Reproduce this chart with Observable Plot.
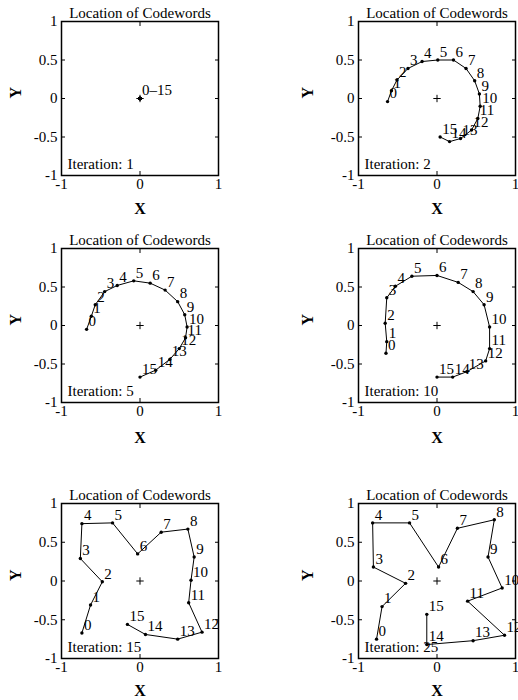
<!DOCTYPE html>
<html><head><meta charset="utf-8">
<script src="https://cdn.jsdelivr.net/npm/d3@7"></script>
<script src="https://cdn.jsdelivr.net/npm/@observablehq/plot@0.6"></script>
<style>
body{margin:0;background:#fff;}
#chart{position:relative;width:518px;height:700px;overflow:hidden;}
.panel{position:absolute;}
</style></head><body><div id="chart"></div>
<script>
// ---- data ----
const titleText = "Location of Codewords";
const iterations = [1, 2, 5, 10, 15, 25];
const codewordLabels = ["0","1","2","3","4","5","6","7","8","9","10","11","12","13","14","15"];
const iter1Labels = ["0–15"];
const xTicks = [-1, 0, 1];
const yTicks = [-1, -0.5, 0, 0.5, 1];

const iter1X = [0,0,0,0,0,0,0,0,0,0,0,0,0,0,0,0];
const iter1Y = [0,0,0,0,0,0,0,0,0,0,0,0,0,0,0,0];

const iter2X = [-0.63,-0.58,-0.51,-0.37,-0.19,0.01,0.21,0.37,0.48,0.54,0.55,0.52,0.44,0.30,0.16,0.04];
const iter2Y = [-0.04,0.10,0.24,0.39,0.48,0.50,0.50,0.39,0.23,0.06,-0.10,-0.26,-0.41,-0.52,-0.56,-0.50];

const iter5X = [-0.68,-0.62,-0.57,-0.45,-0.29,-0.08,0.13,0.32,0.48,0.57,0.60,0.58,0.50,0.38,0.20,0.00];
const iter5Y = [-0.05,0.12,0.27,0.44,0.52,0.58,0.55,0.46,0.31,0.14,-0.02,-0.16,-0.30,-0.44,-0.58,-0.67];

const iter10X = [-0.65,-0.64,-0.66,-0.64,-0.53,-0.32,0.00,0.27,0.46,0.60,0.67,0.67,0.62,0.38,0.20,0.00];
const iter10Y = [-0.36,-0.21,0.03,0.36,0.51,0.64,0.65,0.56,0.44,0.27,-0.02,-0.30,-0.46,-0.60,-0.67,-0.67];

const iter15X = [-0.74,-0.63,-0.48,-0.76,-0.74,-0.35,-0.03,0.27,0.61,0.69,0.65,0.62,0.79,0.48,0.07,-0.16];
const iter15Y = [-0.67,-0.31,-0.01,0.29,0.74,0.75,0.35,0.63,0.67,0.31,0.01,-0.28,-0.66,-0.75,-0.69,-0.56];

const iter25X = [-0.77,-0.70,-0.40,-0.81,-0.82,-0.35,0.02,0.26,0.73,0.65,0.83,0.39,0.86,0.46,-0.13,-0.13];
const iter25Y = [-0.75,-0.33,-0.03,0.18,0.75,0.75,0.18,0.68,0.79,0.31,-0.09,-0.26,-0.70,-0.77,-0.82,-0.43];

const panelX = [iter1X, iter2X, iter5X, iter10X, iter15X, iter25X];
const panelY = [iter1Y, iter2Y, iter5Y, iter10Y, iter15Y, iter25Y];
const panelLabels = [iter1Labels, codewordLabels, codewordLabels, codewordLabels, codewordLabels, codewordLabels];

// ---- layout ----
const rowTop = [0, 225, 478];
const rowHeight = [220, 225, 222];
const rowMT = [21, 23, 25];
const rowMB = [45, 48, 42];
const rowXLab = [33, 35, 32];
const colLeft = [0, 259];
const colML = [61, 99];
const colMR = [41, 3];
const colYLab = [46, 51];
const serif = "'Liberation Serif','Times New Roman',serif";

const chart = document.getElementById("chart");
const fmt = d => String(d);
const blank = () => "";

iterations.forEach((it, i) => {
  const row = Math.floor(i / 2), col = i % 2;
  const xs = panelX[i], ys = panelY[i], labs = panelLabels[i];
  const data = xs.map((x, k) => ({x, y: ys[k], label: labs[k] ?? ""}));
  const svg = Plot.plot({
    width: 259,
    height: rowHeight[row],
    marginLeft: colML[col],
    marginRight: colMR[col],
    marginTop: rowMT[row],
    marginBottom: rowMB[row],
    x: {domain: [-1, 1]},
    y: {domain: [-1, 1]},
    style: {fontFamily: serif, fontSize: "15px", color: "black", overflow: "visible"},
    marks: [
      Plot.axisX(xTicks, {anchor: "bottom", tickSize: -4, tickPadding: 7, tickFormat: fmt, label: null}),
      Plot.axisX(xTicks, {anchor: "top", tickSize: -4, tickFormat: blank, label: null}),
      Plot.axisY(yTicks, {anchor: "left", tickSize: -4, tickPadding: 8, tickFormat: fmt, label: null}),
      Plot.axisY(yTicks, {anchor: "right", tickSize: -4, tickFormat: blank, label: null}),
      Plot.frame({stroke: "black", strokeWidth: 1.5}),
      Plot.dot([{x: 0, y: 0}], {x: "x", y: "y", symbol: "plus", r: 2.5, stroke: "black", strokeWidth: 1}),
      Plot.line(data, {x: "x", y: "y", stroke: "black", strokeWidth: 1}),
      Plot.dot(data, {x: "x", y: "y", r: 1.7, fill: "black"}),
      Plot.text(data, {x: "x", y: "y", text: "label", textAnchor: "start", dx: 2, dy: -8, fontSize: 15, fill: "black"}),
      Plot.text([titleText], {frameAnchor: "top", lineAnchor: "middle", dy: -8, fontSize: 15, fill: "black"}),
      Plot.text([`Iteration: ${it}`], {frameAnchor: "bottom-left", lineAnchor: "middle", textAnchor: "start", dx: 6, dy: -11, fontSize: 15, fill: "black"}),
      Plot.text(["X"], {frameAnchor: "bottom", lineAnchor: "middle", dy: rowXLab[row], fontSize: 16, fontWeight: "bold", fill: "black"}),
      Plot.text(["Y"], {frameAnchor: "left", dx: -colYLab[col], rotate: -90, fontSize: 16, fontWeight: "bold", fill: "black"})
    ]
  });
  const div = document.createElement("div");
  div.className = "panel";
  div.style.left = colLeft[col] + "px";
  div.style.top = rowTop[row] + "px";
  div.appendChild(svg);
  chart.appendChild(div);
});
</script>
</body></html>
